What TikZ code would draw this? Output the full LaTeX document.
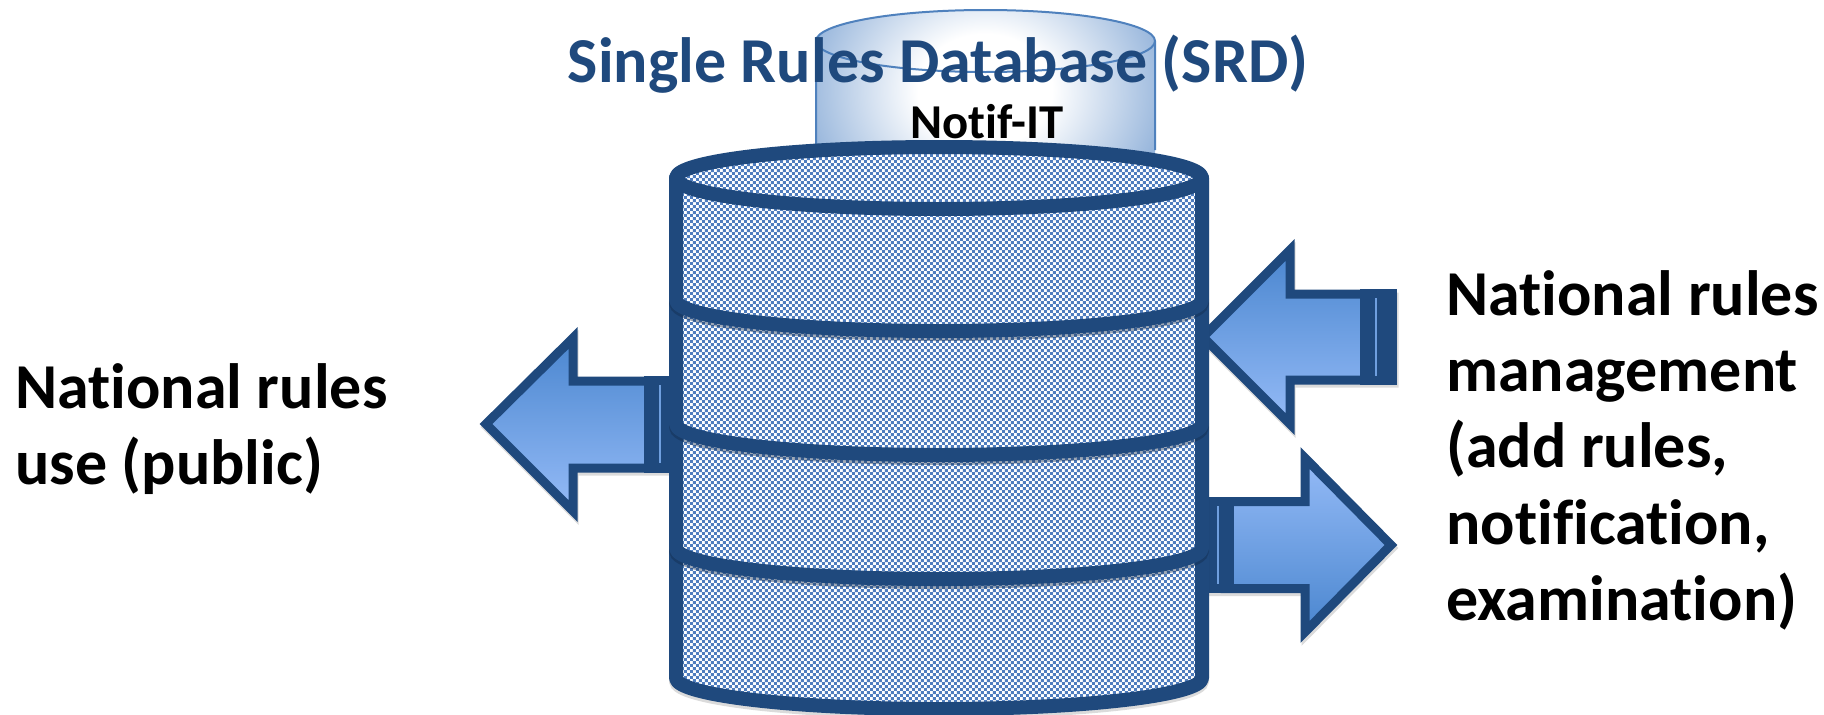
\documentclass[tikz,border=0pt]{standalone}
\usepackage{fontspec}
\setmainfont[Ligatures=NoCommon]{Carlito}
\usetikzlibrary{patterns}
\definecolor{navy}{HTML}{1F497D}
\definecolor{deepnavy}{HTML}{10294A}
\definecolor{hatch}{HTML}{4F7DBE}
\definecolor{arrowdark}{HTML}{4A86CF}
\definecolor{arrowlight}{HTML}{95BBF7}
\definecolor{rearline}{HTML}{4F81BD}
\definecolor{rearmid}{HTML}{8FB0D9}
\definecolor{rearedge}{HTML}{5F8FC8}
\definecolor{sliver}{HTML}{6F9FDF}
\pgfdeclarepatternformonly{checks}{\pgfqpoint{0pt}{0pt}}{\pgfqpoint{4.8pt}{4.8pt}}{\pgfqpoint{4.8pt}{4.8pt}}{%
  \pgfpathrectangle{\pgfqpoint{0pt}{0pt}}{\pgfqpoint{2.4pt}{2.4pt}}%
  \pgfpathrectangle{\pgfqpoint{2.4pt}{2.4pt}}{\pgfqpoint{2.4pt}{2.4pt}}%
  \pgfusepath{fill}}
\pgfdeclareradialshading{rearglow}{\pgfpointorigin}{%
  color(0bp)=(white); color(7bp)=(white); color(20bp)=(rearmid); color(27bp)=(rearedge); color(50bp)=(rearedge)}
\tikzset{
  px/.style={x=0.75pt,y=-0.75pt},
  bigtext/.style={font=\fontsize{48pt}{58pt}\bfseries\selectfont,text=black,inner sep=0pt,anchor=base west},
  outline/.style={draw=navy,line width=10.5pt,line join=round,line cap=round},
  bandshadow/.style={draw=deepnavy,draw opacity=0.4,line width=10.5pt,line cap=round},
  arrowline/.style={draw=navy,line width=6.75pt,line join=miter},
  softshadow/.style={fill=black,fill opacity=0.14,draw=black,draw opacity=0.14,line width=6.75pt},
  blockfill/.style={fill=navy,draw=none},
  sliverline/.style={draw=sliver,line width=1.1pt},
  bodyhatch/.style={pattern=checks,pattern color=hatch},
}
\begin{document}
\begin{tikzpicture}[px]
\useasboundingbox (0,0) rectangle (1824,714);
% rear cylinder
\begin{scope}
  \clip (816,41) arc[x radius=169.5,y radius=31,start angle=-180,end angle=0] -- (1155,180) -- (816,180) -- cycle;
  \shade[shading=rearglow] (745,-110) rectangle (1225,290);
\end{scope}
\draw[draw=rearline,line width=1.5pt] (816,150) -- (816,41) arc[x radius=169.5,y radius=31,start angle=-180,end angle=0] -- (1155,150);
\draw[draw=rearline,line width=1.5pt] (816,41) arc[x radius=169.5,y radius=31,start angle=180,end angle=0];
\node[font=\fontsize{48pt}{58pt}\bfseries\selectfont,text=navy,inner sep=0pt,anchor=base] (title) at (938,82) {Single Rules Database (SRD)};
\node[font=\fontsize{36.5pt}{44pt}\bfseries\selectfont,text=black,inner sep=0pt,anchor=base] (notif) at (987,138) {Notif-IT};
% left arrow
\path[softshadow,shift={(1,3)}] (486,424) -- (573,338) -- (573,381) -- (670,381) -- (670,468) -- (573,468) -- (573,511) -- cycle;
\path[top color=arrowdark,bottom color=arrowlight]
  (486,424) -- (573,338) -- (573,381) -- (655,381) -- (655,468) -- (573,468) -- (573,511) -- cycle;
\draw[arrowline]
  (486,424) -- (573,338) -- (573,381) -- (655,381) -- (655,468) -- (573,468) -- (573,511) -- cycle;
\fill[blockfill] (644,376) rectangle (680,473);
\draw[sliverline] (660,385) -- (660,463);
% right upper arrow
\path[softshadow,shift={(1,3)}] (1203,337) -- (1290,250) -- (1290,294) -- (1393,294) -- (1393,380) -- (1290,380) -- (1290,424) -- cycle;
\path[top color=arrowdark,bottom color=arrowlight]
  (1203,337) -- (1290,250) -- (1290,294) -- (1370,294) -- (1370,380) -- (1290,380) -- (1290,424) -- cycle;
\draw[arrowline]
  (1203,337) -- (1290,250) -- (1290,294) -- (1370,294) -- (1370,380) -- (1290,380) -- (1290,424) -- cycle;
\fill[blockfill] (1360,289) rectangle (1397,385);
\draw[sliverline] (1376,298) -- (1376,376);
% right lower arrow
\path[softshadow,shift={(1,3)}] (1391,545) -- (1305,458) -- (1305,501.5) -- (1210,501.5) -- (1210,588.5) -- (1305,588.5) -- (1305,632) -- cycle;
\path[top color=arrowlight,bottom color=arrowdark]
  (1391,545) -- (1305,458) -- (1305,501.5) -- (1225,501.5) -- (1225,588.5) -- (1305,588.5) -- (1305,632) -- cycle;
\draw[arrowline]
  (1391,545) -- (1305,458) -- (1305,501.5) -- (1225,501.5) -- (1225,588.5) -- (1305,588.5) -- (1305,632) -- cycle;
\fill[blockfill] (1195,497) rectangle (1234,593);
\draw[sliverline] (1218,506) -- (1218,584);
% main cylinder
\draw[draw=black,draw opacity=0.14,line width=10.5pt,shift={(0,3)}] (676,178) -- (676,678) arc[x radius=263,y radius=31,start angle=180,end angle=0] -- (1202,178);
\fill[white] (676,178) arc[x radius=263,y radius=31,start angle=-180,end angle=0] -- (1202,678) arc[x radius=263,y radius=31,start angle=0,end angle=180] -- cycle;
\fill[bodyhatch] (676,178) arc[x radius=263,y radius=31,start angle=-180,end angle=0] -- (1202,678) arc[x radius=263,y radius=31,start angle=0,end angle=180] -- cycle;
\draw[outline] (676,178) arc[x radius=263,y radius=31,start angle=-180,end angle=0] -- (1202,678) arc[x radius=263,y radius=31,start angle=0,end angle=180] -- cycle;
\draw[outline] (676,178) arc[x radius=263,y radius=31,start angle=180,end angle=0];
\draw[bandshadow] (676,303) arc[x radius=263,y radius=31,start angle=180,end angle=0];
\draw[bandshadow] (676,427) arc[x radius=263,y radius=31,start angle=180,end angle=0];
\draw[bandshadow] (676,551) arc[x radius=263,y radius=31,start angle=180,end angle=0];
\draw[outline] (676,300) arc[x radius=263,y radius=31,start angle=180,end angle=0];
\draw[outline] (676,424) arc[x radius=263,y radius=31,start angle=180,end angle=0];
\draw[outline] (676,548) arc[x radius=263,y radius=31,start angle=180,end angle=0];
% labels
\node[bigtext] (usea) at (15,408) {National rules};
\node[bigtext] (useb) at (15,484) {use (public)};
\node[bigtext] (ma) at (1446,315) {National rules};
\node[bigtext] (mb) at (1446,391) {management};
\node[bigtext] (mc) at (1446,467) {(add rules,};
\node[bigtext] (md) at (1446,544) {notification,};
\node[bigtext] (me) at (1446,620) {examination)};
\end{tikzpicture}
\end{document}
